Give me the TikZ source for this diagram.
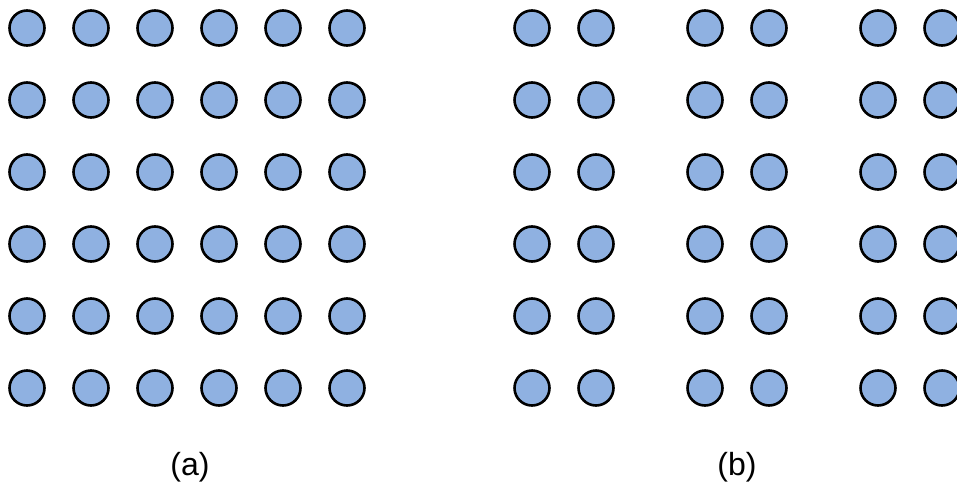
\documentclass[tikz,border=0pt]{standalone}
\usepackage{fontspec}
\setmainfont{Liberation Sans}
\usepackage{tikz}
\usetikzlibrary{positioning}

\definecolor{dotblue}{RGB}{143,177,225}

\begin{document}
\begin{tikzpicture}[
  x=1pt, y=-1pt,
  dot/.style={
    draw=black, fill=dotblue, circle,
    line width=2.6pt, inner sep=0pt,
    minimum size=35pt
  },
  caption/.style={font=\fontsize{32}{38}\selectfont, inner sep=0pt}
]

\useasboundingbox (0,0) rectangle (957,487);

% (a) square lattice
\foreach \i in {0,...,5}
  \foreach \j in {0,...,5}
    \node[dot] (a-\i-\j) at (27+64*\i, 28+72*\j) {};

% (b) paired columns
\foreach \p/\x in {0/532, 1/705, 2/878}
  \foreach \k in {0,1}
    \foreach \j in {0,...,5}
      \node[dot] (b-\p-\k-\j) at (\x+64*\k, 28+72*\j) {};

\node[caption] (capa) at (190,467) {(a)};
\node[caption] (capb) at (737,467) {(b)};

\end{tikzpicture}
\end{document}
